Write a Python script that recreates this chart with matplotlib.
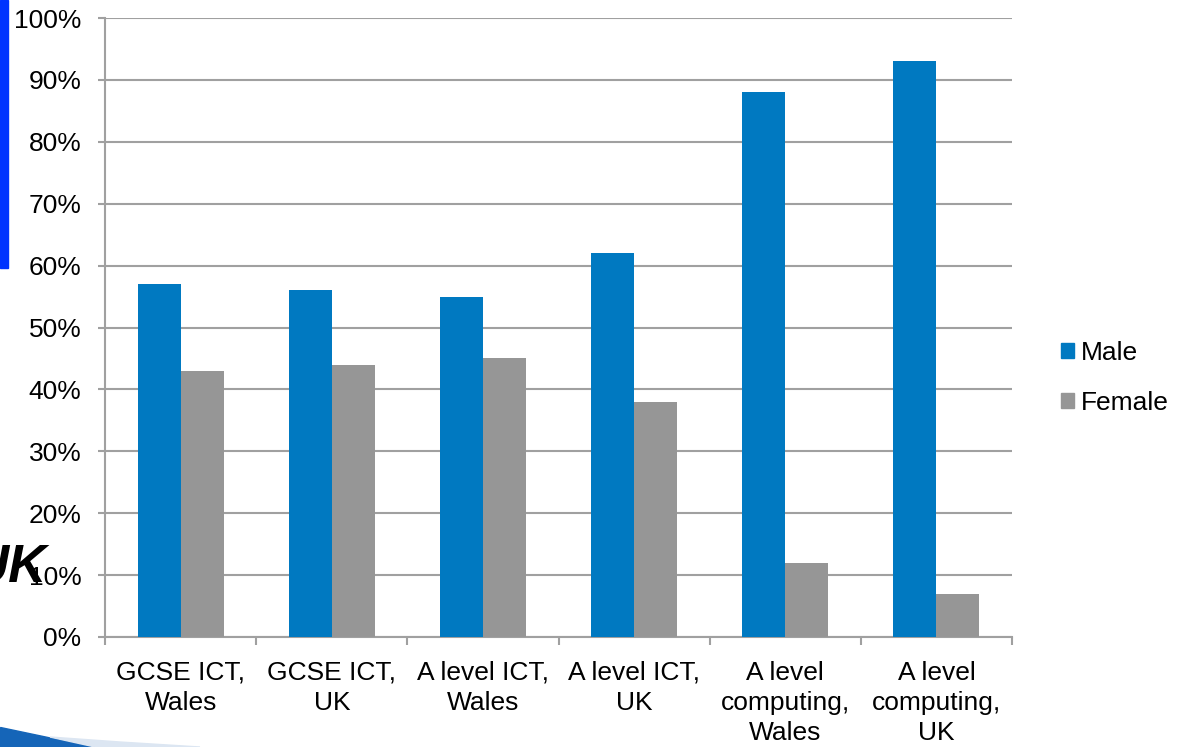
import matplotlib
matplotlib.use("Agg")
import matplotlib.pyplot as plt
import numpy as np
from matplotlib.patches import Rectangle, Polygon, Patch

plt.rcParams['font.family'] = ['Liberation Sans', 'DejaVu Sans']

categories = ["GCSE ICT,\nWales", "GCSE ICT,\nUK", "A level ICT,\nWales",
              "A level ICT,\nUK", "A level\ncomputing,\nWales", "A level\ncomputing,\nUK"]
male = [57, 56, 55, 62, 88, 93]
female = [43, 44, 45, 38, 12, 7]
series_names = ["Male", "Female"]
male_color = "#0079C1"
female_color = "#969696"
grid_color = "#A0A0A0"

fig = plt.figure(figsize=(11.84, 7.47), dpi=100)
ax = fig.add_axes([105/1184, 1-637/747, (1012-105)/1184, (637-18)/747])

x = np.arange(len(categories))
w = 0.285
ax.bar(x - w/2, male, width=w, color=male_color, zorder=3)
ax.bar(x + w/2, female, width=w, color=female_color, zorder=3)

ax.set_xlim(-0.5, len(categories) - 0.5)
ax.set_ylim(0, 100)
ax.set_yticks(np.arange(0, 101, 10))
ax.set_yticklabels([f"{v}%" for v in range(0, 101, 10)])
ax.yaxis.grid(True, color=grid_color, linewidth=1.5, zorder=0)
ax.set_axisbelow(True)

ax.set_xticks(x)
ax.set_xticklabels(categories, fontsize=19, linespacing=1.32)
ax.set_xticks(np.arange(-0.5, len(categories), 1), minor=True)
ax.tick_params(axis='x', which='major', length=0, pad=17)
ax.tick_params(axis='x', which='minor', length=6, width=1.5, color=grid_color, direction='out')
ax.tick_params(axis='y', labelsize=19, length=5, width=1.5, color=grid_color, pad=12)

for s in ['top', 'right']:
    ax.spines[s].set_visible(False)
for s in ['left', 'bottom']:
    ax.spines[s].set_color(grid_color)
    ax.spines[s].set_linewidth(1.5)

handles = [Patch(color=male_color), Patch(color=female_color)]
fig.legend(handles, series_names, loc='center left', bbox_to_anchor=(1061/1184, 1-378/747),
           frameon=False, fontsize=19, handlelength=0.5, handleheight=0.5,
           handletextpad=0.25, labelspacing=0.98, borderpad=0, borderaxespad=0)

# slide decorations
fig.patches.append(Rectangle((0, 1-268/747), 8/1184, 268/747, transform=fig.transFigure,
                             color="#0033FF", zorder=0))
fig.text(47/1184, 1-582/747, "UK", ha='right', va='baseline', fontsize=38,
         fontweight='bold', fontstyle='italic', color='black')
fig.patches.append(Polygon([(0, 1-727/747), (0, 0), (95/1184, 0)], closed=True,
                           transform=fig.transFigure, color="#1565B8", zorder=0))
fig.patches.append(Polygon([(50/1184, 1-737/747), (95/1184, 0), (200/1184, 0), (120/1184, 1-742/747)],
                           closed=True, transform=fig.transFigure, color="#DCE6F2", zorder=0))

fig.savefig("out.png", dpi=100)
